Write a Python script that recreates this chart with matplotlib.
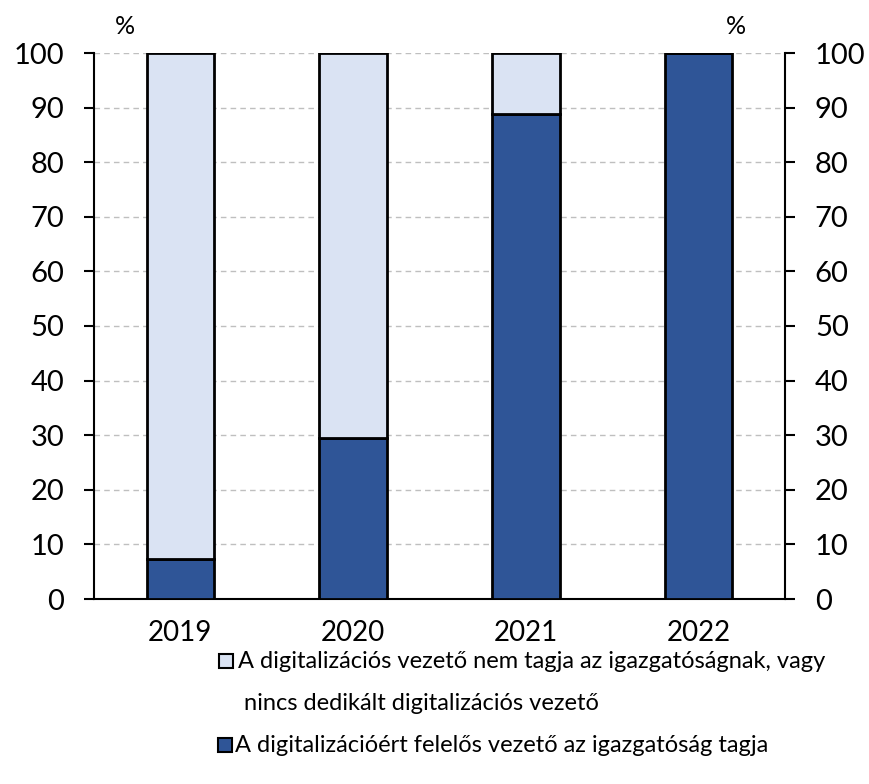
import matplotlib
matplotlib.use("Agg")
import matplotlib.pyplot as plt
from matplotlib.patches import Rectangle
from matplotlib.ticker import MultipleLocator

years = ["2019", "2020", "2021", "2022"]
member = [7.4, 29.4, 88.9, 100.0]
not_member = [92.6, 70.6, 11.1, 0.0]
label_not = ["A digitalizációs vezető nem tagja az igazgatóságnak, vagy",
             "nincs dedikált digitalizációs vezető"]
label_member = "A digitalizációért felelős vezető az igazgatóság tagja"

plt.rcParams["font.family"] = ["Lato", "DejaVu Sans"]
LIGHT, DARK = "#DAE3F3", "#2F5597"
W, H = 869, 784

fig = plt.figure(figsize=(W / 100, H / 100), dpi=100)
ax = fig.add_axes([94 / W, 1 - 599 / H, 691 / W, 546 / H])
x = range(len(years))
ax.bar(x, member, width=0.39, color=DARK, edgecolor="black", linewidth=2, zorder=3)
ax.bar(x, not_member, width=0.39, bottom=member, color=LIGHT, edgecolor="black",
       linewidth=2, zorder=3)

ax.set_xlim(-0.5, 3.5)
ax.set_ylim(0, 100)
ax.yaxis.set_major_locator(MultipleLocator(10))
ax.set_xticks(list(x))
ax.set_xticklabels(years)
ax.grid(axis="y", ls=(0, (4, 3)), color="#BFBFBF", lw=1, zorder=0)
ax.tick_params(axis="y", which="both", direction="out", length=7.5, width=1.5, pad=14,
               labelsize=21, left=True, right=True, labelleft=True, labelright=True)
ax.tick_params(axis="x", length=0, labelsize=20, pad=15)
ax.spines["top"].set_visible(False)
for s in ("left", "right", "bottom"):
    ax.spines[s].set_linewidth(1.5)

fig.text(125 / W, 1 - 27 / H, "%", fontsize=18, ha="center", va="center")
fig.text(736 / W, 1 - 27 / H, "%", fontsize=18, ha="center", va="center")

# legend drawn by hand to match the reference spacing
fig.patches.append(Rectangle((219 / W, 1 - 668 / H), 14 / W, 14 / H, transform=fig.transFigure,
                             facecolor=LIGHT, edgecolor="black", lw=1.5))
fig.patches.append(Rectangle((218 / W, 1 - 752 / H), 14 / W, 14 / H, transform=fig.transFigure,
                             facecolor=DARK, edgecolor="black", lw=1.5))
fig.text(238 / W, 1 - 662 / H, label_not[0], fontsize=17, va="center")
fig.text(244 / W, 1 - 703 / H, label_not[1], fontsize=17, va="center")
fig.text(235 / W, 1 - 745 / H, label_member, fontsize=17, va="center")

fig.savefig("out.png", dpi=100)
